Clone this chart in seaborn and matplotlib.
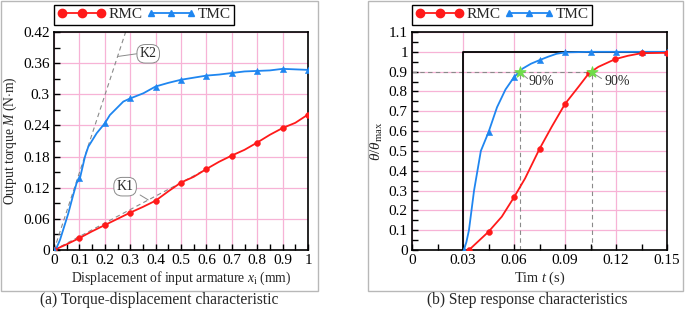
import numpy as np
import pandas as pd
import matplotlib
matplotlib.use("Agg")
import matplotlib.pyplot as plt
import seaborn as sns
from matplotlib.lines import Line2D
from matplotlib.patches import Rectangle

# ---------------- data (a) torque-displacement ----------------
rmc_a_x = [0, 0.05, 0.1, 0.15, 0.2, 0.25, 0.3, 0.35, 0.4, 0.45, 0.5, 0.55, 0.6, 0.65, 0.7, 0.75, 0.8, 0.85, 0.9, 0.95, 1.0]
rmc_a_y = [0, 0.011, 0.023, 0.036, 0.048, 0.060, 0.072, 0.083, 0.095, 0.113, 0.130, 0.141, 0.156, 0.170, 0.182, 0.193, 0.207, 0.222, 0.235, 0.245, 0.261]
rmc_a_mx = [0, 0.1, 0.2, 0.3, 0.4, 0.5, 0.6, 0.7, 0.8, 0.9, 1.0]
rmc_a_my = [0, 0.023, 0.048, 0.072, 0.095, 0.130, 0.156, 0.182, 0.207, 0.235, 0.261]

tmc_a_x = [0, 0.01, 0.024, 0.04, 0.056, 0.075, 0.089, 0.102, 0.122, 0.135, 0.168, 0.2, 0.22, 0.273, 0.3, 0.352, 0.4, 0.45, 0.5, 0.55, 0.6, 0.65, 0.7, 0.75, 0.8, 0.85, 0.9, 0.95, 1.0]
tmc_a_y = [0, 0.004, 0.02, 0.045, 0.07, 0.105, 0.129, 0.138, 0.18, 0.199, 0.225, 0.244, 0.26, 0.286, 0.292, 0.302, 0.315, 0.322, 0.328, 0.332, 0.336, 0.338, 0.341, 0.344, 0.345, 0.346, 0.349, 0.348, 0.347]
tmc_a_mx = [0, 0.1, 0.2, 0.3, 0.4, 0.5, 0.6, 0.7, 0.8, 0.9, 1.0]
tmc_a_my = [0, 0.138, 0.244, 0.292, 0.315, 0.328, 0.336, 0.341, 0.345, 0.349, 0.347]

k1_x = [0, 0.62]
k1_y = [0, 0.161]
k2_x = [0, 0.282]
k2_y = [0, 0.42]

# ---------------- data (b) step response ----------------
rmc_b_t = [0.0335, 0.045, 0.0528, 0.06, 0.0665, 0.075, 0.0822, 0.09, 0.0979, 0.104, 0.1096, 0.1195, 0.127, 0.135, 0.15]
rmc_b_y = [0, 0.092, 0.168, 0.266, 0.361, 0.51, 0.622, 0.737, 0.823, 0.891, 0.924, 0.963, 0.98, 0.993, 0.995]
rmc_b_mt = [0.0335, 0.045, 0.06, 0.075, 0.09, 0.104, 0.1195, 0.135, 0.15]
rmc_b_my = [0, 0.092, 0.266, 0.51, 0.737, 0.891, 0.963, 0.993, 0.995]

tmc_b_t = [0.0305, 0.032, 0.0335, 0.035, 0.0365, 0.0385, 0.0405, 0.045, 0.05, 0.055, 0.06, 0.065, 0.07, 0.075, 0.08, 0.085, 0.09, 0.105, 0.12, 0.135, 0.15]
tmc_b_y = [0, 0.04, 0.1, 0.2, 0.3, 0.4, 0.5, 0.594, 0.72, 0.81, 0.872, 0.915, 0.94, 0.958, 0.975, 0.99, 0.997, 1.0, 1.0, 1.0, 1.0]
tmc_b_mt = [0.0305, 0.045, 0.06, 0.075, 0.09, 0.105, 0.12, 0.135, 0.15]
tmc_b_my = [0, 0.594, 0.872, 0.958, 0.997, 1.0, 1.0, 1.0, 1.0]

step_t = [0.0302, 0.0302, 0.15]
step_y = [0, 1.0, 1.0]

t90 = [0.0635, 0.1057]
y90 = [0.9, 0.9]

# ---------------- style ----------------
sns.set_style("ticks")
plt.rcParams['font.family'] = ['Liberation Serif', 'DejaVu Serif']
plt.rcParams['mathtext.fontset'] = 'custom'
plt.rcParams['mathtext.rm'] = 'Liberation Serif'
plt.rcParams['mathtext.it'] = 'Liberation Serif:italic'
plt.rcParams['font.size'] = 9

RED = '#ff1a1a'
BLUE = '#1f86f0'
PINK = '#f7b3d6'
GRAY = '#8a8a8a'
FS = 9.5
TFS = 11

fig = plt.figure(figsize=(6.85, 3.12), dpi=100)
W, H = 685, 312

def px_axes(x0, x1, ytop, ybot):
    return fig.add_axes([x0 / W, (H - ybot) / H, (x1 - x0) / W, (ybot - ytop) / H])

axA = px_axes(54, 308, 32, 250)
axB = px_axes(412, 667, 32, 250)

# panel frames
for (x0, x1) in [(1, 318), (368, 683)]:
    fig.add_artist(Rectangle((x0 / W, (H - 291) / H), (x1 - x0) / W, 290 / H,
                             transform=fig.transFigure, fill=False, ec='#b8b8b8', lw=1.0))

def style_axes(ax):
    for s in ax.spines.values():
        s.set_visible(True)
        s.set_color('black')
        s.set_linewidth(1.2)
    ax.tick_params(which='both', direction='in', top=False, right=False, labelsize=TFS, colors='black')
    ax.tick_params(which='major', length=4, width=1, pad=3)
    ax.tick_params(which='minor', length=4, width=1)
    ax.grid(True, which='major', color=PINK, lw=0.9)
    ax.set_axisbelow(True)

def line(x, y, ax, **kw):
    sns.lineplot(x=x, y=y, ax=ax, sort=False, estimator=None, **kw)

# ---------------- panel (a) ----------------
ax = axA
line(k1_x, k1_y, ax, color=GRAY, lw=0.8, linestyle=(0, (4, 3)))
line(k2_x, k2_y, ax, color=GRAY, lw=0.8, linestyle=(0, (4, 3)))
line(rmc_a_x, rmc_a_y, ax, color=RED, lw=1.3)
sns.scatterplot(x=rmc_a_mx, y=rmc_a_my, ax=ax, color=RED, marker='o', s=18, edgecolor=RED, zorder=5)
line(tmc_a_x, tmc_a_y, ax, color=BLUE, lw=1.3)
sns.scatterplot(x=tmc_a_mx, y=tmc_a_my, ax=ax, color=BLUE, marker='^', s=20, edgecolor=BLUE, zorder=5)
ax.set_xlim(0, 1)
ax.set_ylim(0, 0.42)
ax.set_xticks(np.arange(0, 1.01, 0.1))
ax.set_xticklabels(['0', '0.1', '0.2', '0.3', '0.4', '0.5', '0.6', '0.7', '0.8', '0.9', '1'])
ax.set_xticks(np.arange(0.05, 1.0, 0.1), minor=True)
ax.set_yticks(np.arange(0, 0.4201, 0.06))
ax.set_yticklabels(['0', '0.06', '0.12', '0.18', '0.24', '0.3', '0.36', '0.42'])
ax.set_yticks(np.arange(0.03, 0.42, 0.06), minor=True)
style_axes(ax)
ax.set_xlabel('Displacement of input armature $x_\\mathrm{i}$ (mm)', fontsize=FS + 0.3, labelpad=2)
ax.set_ylabel('Output torque $M$ (N$\\cdot$m)', fontsize=FS + 0.3, labelpad=3)
# K labels
ax.plot([0.253, 0.325], [0.373, 0.378], color=GRAY, lw=0.7)
ax.text(0.371, 0.378, 'K2', ha='center', va='center', fontsize=FS + 0.5,
        bbox=dict(boxstyle='round,pad=0.2,rounding_size=0.6', fc='white', ec=GRAY, lw=0.7))
ax.plot([0.339, 0.371], [0.106, 0.0965], color=GRAY, lw=0.7)
ax.text(0.28, 0.122, 'K1', ha='center', va='center', fontsize=FS + 0.5,
        bbox=dict(boxstyle='round,pad=0.2,rounding_size=0.6', fc='white', ec=GRAY, lw=0.7))

handles = [Line2D([0], [0], color=RED, marker='o', ms=6, lw=1.3),
           Line2D([0], [0], color=BLUE, marker='^', ms=5, lw=1.3)]

def legend(ax):
    leg = ax.legend(handles, ['RMC', 'TMC'], loc='upper left', bbox_to_anchor=(0.0, 1.125), ncol=2,
                    numpoints=3, handlelength=3.2, handletextpad=0.15, columnspacing=0.3,
                    borderaxespad=0, borderpad=0.2, fancybox=False, edgecolor='black',
                    framealpha=1, fontsize=11)
    leg.get_frame().set_linewidth(1.0)

legend(ax)

# ---------------- panel (b) ----------------
ax = axB
for tx in t90:
    ax.plot([tx, tx], [0, 0.9], color=GRAY, lw=0.8, linestyle=(0, (4, 3)))
ax.plot([0, max(t90)], [0.9, 0.9], color=GRAY, lw=0.8, linestyle=(0, (4, 3)))
line(step_t, step_y, ax, color='black', lw=1.3)
line(tmc_b_t, tmc_b_y, ax, color=BLUE, lw=1.3)
sns.scatterplot(x=tmc_b_mt, y=tmc_b_my, ax=ax, color=BLUE, marker='^', s=20, edgecolor=BLUE, zorder=5)
line(rmc_b_t, rmc_b_y, ax, color=RED, lw=1.3)
sns.scatterplot(x=rmc_b_mt, y=rmc_b_my, ax=ax, color=RED, marker='o', s=18, edgecolor=RED, zorder=5)
sns.scatterplot(x=t90, y=y90, ax=ax, color='#6fdc4a', marker='*', s=70, edgecolor='#6fdc4a', zorder=6)
ax.plot([0.0645, 0.068], [0.89, 0.865], color=GRAY, lw=0.7)
ax.text(0.0688, 0.85, '90%', ha='left', va='center', fontsize=FS + 0.5)
ax.plot([0.107, 0.1115], [0.89, 0.865], color=GRAY, lw=0.7)
ax.text(0.1132, 0.85, '90%', ha='left', va='center', fontsize=FS + 0.5)
ax.set_xlim(0, 0.15)
ax.set_ylim(0, 1.1)
ax.set_xticks(np.arange(0, 0.1501, 0.03))
ax.set_xticklabels(['0', '0.03', '0.06', '0.09', '0.12', '0.15'])
ax.set_xticks(np.arange(0.015, 0.15, 0.03), minor=True)
ax.set_yticks(np.arange(0, 1.101, 0.1))
ax.set_yticklabels(['0', '0.1', '0.2', '0.3', '0.4', '0.5', '0.6', '0.7', '0.8', '0.9', '1', '1.1'])
ax.set_yticks(np.arange(0.05, 1.1, 0.1), minor=True)
style_axes(ax)
ax.set_xlabel('Tim $t$ (s)', fontsize=FS + 0.8, labelpad=2)
ax.set_ylabel('$\\theta/\\theta_\\mathrm{max}$', fontsize=FS + 1.5, labelpad=3)
legend(ax)

# captions
fig.text(159 / W, (H - 300) / H, '(a) Torque-displacement characteristic', ha='center', va='center', fontsize=11.2)
fig.text(527 / W, (H - 300) / H, '(b) Step response characteristics', ha='center', va='center', fontsize=11.2)

fig.savefig('out.png', dpi=100)
